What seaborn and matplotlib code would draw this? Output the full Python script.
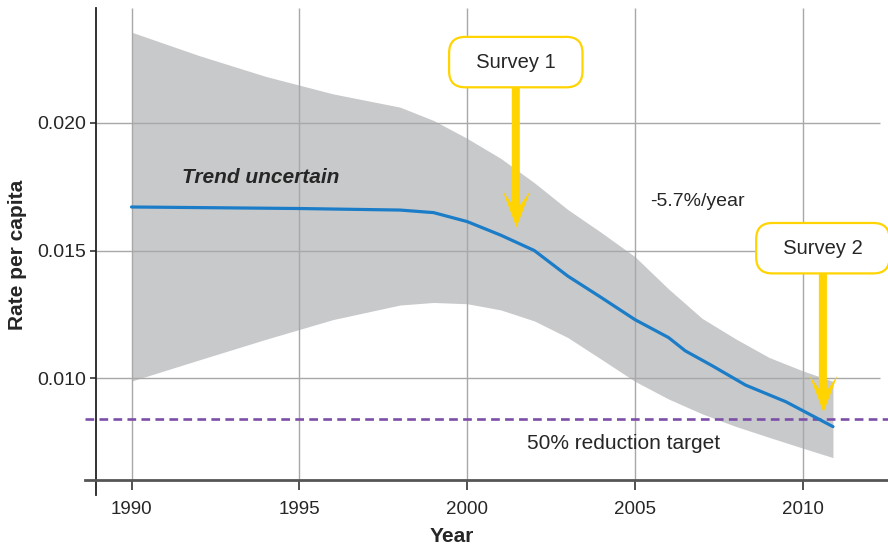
import numpy as np
import pandas as pd
import seaborn as sns
import matplotlib
matplotlib.use("Agg")
import matplotlib.pyplot as plt
from matplotlib.path import Path
from matplotlib import font_manager

# uncertainty band
band_years = [1990, 1992, 1994, 1996, 1998, 1999, 2000, 2001, 2002, 2003, 2004,
              2005, 2006, 2007, 2008, 2009, 2010, 2010.9]
band_upper = [0.02353, 0.02262, 0.02180, 0.02112, 0.02060, 0.02008, 0.01938, 0.01860,
              0.01765, 0.01660, 0.01570, 0.01476, 0.01350, 0.01235, 0.01155, 0.01082,
              0.01030, 0.00989]
band_lower = [0.00990, 0.01072, 0.01153, 0.01230, 0.01287, 0.01297, 0.01292, 0.01268,
              0.01225, 0.01160, 0.01075, 0.00989, 0.00920, 0.00862, 0.00813, 0.00770,
              0.00728, 0.00691]

# central trend
trend_years = [1990, 1995, 1998, 1999, 2000, 2001, 2002, 2003, 2004, 2005, 2006,
               2006.5, 2007.3, 2008.3, 2009.5, 2010.9]
trend_rate = [0.01670, 0.01664, 0.01658, 0.01648, 0.01613, 0.01560, 0.01500, 0.01400,
              0.01316, 0.01230, 0.01160, 0.01108, 0.01050, 0.00974, 0.00909, 0.00812]

target_rate = 0.0084

survey_labels = ["Survey 1", "Survey 2"]
survey_years = [2001.45, 2010.6]
survey_tips = [0.01592, 0.00869]
survey_boxes = [0.02236, 0.01509]

year_ticks = [1990, 1995, 2000, 2005, 2010]
rate_ticks = [0.010, 0.015, 0.020]

sns.set_style("white")
names = {f.name for f in font_manager.fontManager.ttflist}
narrow = "Liberation Sans Narrow" if "Liberation Sans Narrow" in names else "Liberation Sans"
plt.rcParams["font.family"] = [narrow, "DejaVu Sans"]
BOLD_FAMILY = ["Liberation Sans", "DejaVu Sans"]

YELLOW = "#ffd400"
GRID = "#a8a8a8"

fig = plt.figure(figsize=(8.88, 5.49), dpi=100)
ax = fig.add_axes([85 / 888, 54 / 549, 803 / 888, 487 / 549])

xmin, xmax = 1988.614, 2012.54
ymin, ymax = 0.005449, 0.024473
spine_x, spine_y = 1988.942, 0.006035
ax.set_xlim(xmin, xmax)
ax.set_ylim(ymin, ymax)

ax.fill_between(band_years, band_lower, band_upper, color="#c8c9cb", lw=0, zorder=1)

ax.vlines(year_ticks, spine_y, ymax, color=GRID, lw=1.0, zorder=1.5)
ax.hlines(rate_ticks, spine_x, 2012.3, color=GRID, lw=1.0, zorder=1.5)

df = pd.DataFrame({"year": trend_years, "rate": trend_rate})
sns.lineplot(data=df, x="year", y="rate", ax=ax, color="#1b7cc8", lw=2.3, zorder=3)

ax.axhline(target_rate, color="#7d4ea8", lw=1.9, dashes=(3.3, 2.0), zorder=2.5)

# survey call-outs
head = Path([(0, 0), (14, 37), (4, 23), (-4, 23), (-14, 37), (0, 0)], closed=True)
for lab, yr, tip, box in zip(survey_labels, survey_years, survey_tips, survey_boxes):
    ax.annotate("  " + lab + "  ", xy=(yr, tip), xytext=(yr, box),
                ha="center", va="center", fontsize=14.5, annotation_clip=False,
                bbox=dict(boxstyle="round,pad=0.78,rounding_size=0.8", fc="white",
                          ec=YELLOW, lw=1.6),
                arrowprops=dict(arrowstyle="-", lw=5.8, color=YELLOW,
                                shrinkA=0, shrinkB=14), zorder=5)
    ax.plot([yr], [tip], marker=head, markersize=53, color=YELLOW, mew=0,
            ls="none", zorder=5)

ax.text(1993.86, 0.01787, "Trend uncertain", ha="center", va="center", fontsize=15,
        fontweight="bold", fontstyle="italic", family=BOLD_FAMILY)
ax.text(2006.85, 0.01693, "-5.7%/year", ha="center", va="center", fontsize=14)
ax.text(2004.65, 0.00745, "50% reduction target", ha="center", va="center", fontsize=15)

# axes styling
sns.despine(ax=ax)
ax.spines["left"].set_position(("data", spine_x))
ax.spines["bottom"].set_position(("data", spine_y))
ax.spines["left"].set_color("#222222")
ax.spines["left"].set_linewidth(1.3)
ax.spines["bottom"].set_color("#555555")
ax.spines["bottom"].set_linewidth(2.0)

ax.set_xticks(year_ticks)
ax.set_xticklabels([str(y) for y in year_ticks])
ax.set_yticks(rate_ticks)
ax.set_yticklabels([f"{v:.3f}" for v in rate_ticks])
ax.tick_params(axis="x", direction="out", length=7, width=1.2, color="#333333",
               labelsize=13.5, pad=8, bottom=True)
ax.tick_params(axis="y", direction="out", length=4, width=1.2, color="#333333",
               labelsize=14, pad=3, left=True)

ax.set_xlabel("Year", fontsize=15, fontweight="bold", family=BOLD_FAMILY)
ax.set_ylabel("Rate per capita", fontsize=15, fontweight="bold", family=BOLD_FAMILY)
ax.xaxis.label.set_va("center")
ax.yaxis.label.set_va("center")
ax.xaxis.set_label_coords((452 - 85) / 803, -(537 - 495) / 487)
ax.yaxis.set_label_coords(-(85 - 18) / 803, (495 - 255) / 487)

fig.savefig("out.png", dpi=100)
